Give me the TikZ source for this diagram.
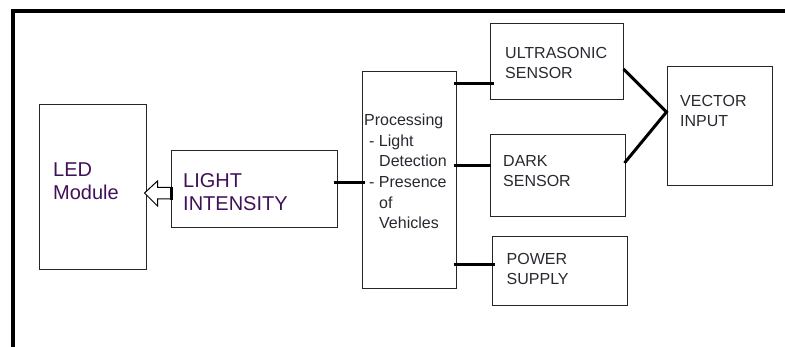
\documentclass[tikz,border=0pt]{standalone}
\usepackage{fontspec}
\setmainfont{Liberation Sans}
\usetikzlibrary{calc}

\definecolor{ledtext}{RGB}{64,16,88}
\definecolor{boxtext}{RGB}{40,40,48}

\tikzset{
  block/.style={draw=black!85,line width=1pt,inner sep=0pt},
  small/.style={font=\fontsize{16}{20.6}\selectfont,text=boxtext,align=left,anchor=base west,inner sep=0pt},
  large/.style={font=\fontsize{20}{23.5}\selectfont,text=ledtext,align=left,anchor=base west,inner sep=0pt},
  link/.style={line width=3pt},
}

\begin{document}
\begin{tikzpicture}[x=1pt,y=-1pt]
  \useasboundingbox (0,0) rectangle (785,347);

  % ================= frame =================
  \draw[line width=4pt] (13,349) -- (13,11) -- (787,11);

  % ================= blocks =================
  \node[block,minimum width=107,minimum height=165] (led) at (92.5,187.5) {};
  \node[block,minimum width=166,minimum height=77] (intensity) at (254,189.5) {};
  \node[block,minimum width=94,minimum height=217] (proc) at (409,180.5) {};
  \node[block,minimum width=133,minimum height=76] (ultra) at (556.5,62) {};
  \node[block,minimum width=135,minimum height=82] (dark) at (557.5,176) {};
  \node[block,minimum width=135,minimum height=69] (power) at (559.5,271.5) {};
  \node[block,minimum width=105,minimum height=119] (vector) at (719.5,126.5) {};

  % ================= texts (placed at the last baseline) =================
  \node[large] (led-txt) at (53,200) {LED\\Module};
  \node[large] (intensity-txt) at (183,211) {LIGHT\\INTENSITY};
  \node[small] (proc-txt) at (364,228.7) {Processing\\
    \hspace*{5pt}- Light\\
    \hspace*{15pt}Detection\\
    \hspace*{5pt}- Presence\\
    \hspace*{15pt}of\\
    \hspace*{15pt}Vehicles};
  \node[small] (ultra-txt) at (505,78.7) {ULTRASONIC\\SENSOR};
  \node[small] (dark-txt) at (503,186.7) {DARK\\SENSOR};
  \node[small] (power-txt) at (506.5,285) {POWER\\SUPPLY};
  \node[small] (vector-txt) at (680,126.7) {VECTOR\\INPUT};

  % ================= hollow arrow =================
  \coordinate (tip) at ($(intensity.west)+(-26,3.5)$);
  \draw[line width=1pt,fill=white] (tip)
    -- ($(intensity.west)+(-13,-8.5)$) -- ($(intensity.west)+(-13,-2)$)
    -- ($(intensity.west)+(0,-2)$) -- ($(intensity.west)+(0,9.5)$)
    -- ($(intensity.west)+(-13,9.5)$) -- ($(intensity.west)+(-13,16.5)$) -- cycle;
  \draw[line width=3pt] ($(intensity.west)+(1,-2.5)$) -- ($(intensity.west)+(1,10.5)$);

  % ================= connectors =================
  \draw[link] ([yshift=6.5pt,xshift=-4pt]intensity.east) -- ([yshift=6.5pt,xshift=3pt]intensity.east -| proc.west);
  \draw[link] ([yshift=-22pt,xshift=-3pt]ultra.west -| proc.east) -- ([yshift=-22pt,xshift=4pt]ultra.west);
  \draw[link] ([yshift=10pt,xshift=-3pt]dark.west -| proc.east) -- ([yshift=10pt,xshift=1pt]dark.west);
  \draw[link] ([yshift=6.5pt,xshift=-3pt]power.west -| proc.east) -- ([yshift=6.5pt,xshift=3pt]power.west);

  \coordinate (vin) at ([yshift=14.5pt]vector.west);
  \draw[link,line join=miter] ([yshift=-7pt]ultra.east) -- (vin) -- ([yshift=13pt,xshift=-1pt]dark.east);
\end{tikzpicture}
\end{document}
